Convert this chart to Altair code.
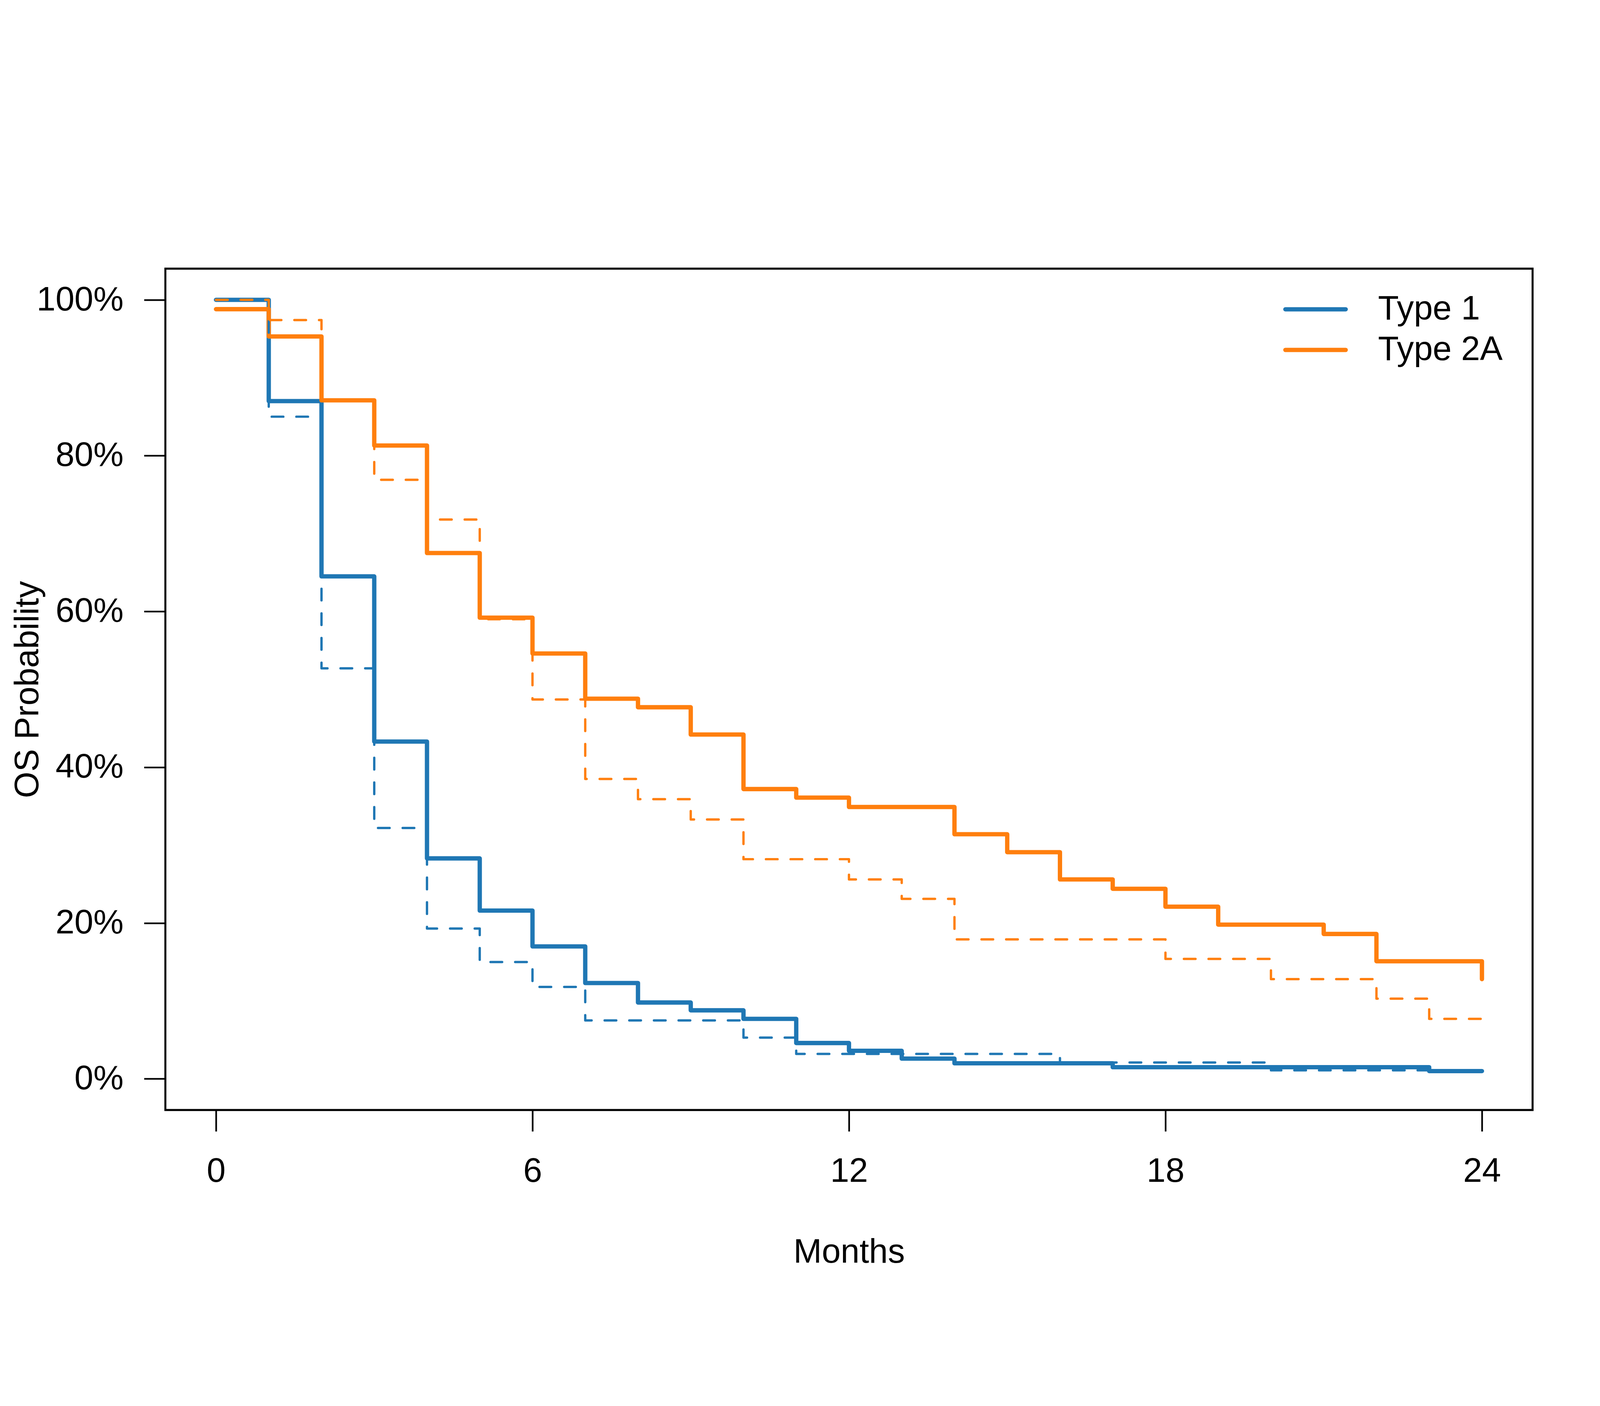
import altair as alt
import pandas as pd

# ---- data (survival in %) ----
months = list(range(25))  # 0..24

type1_solid = [100, 87.0, 64.5, 43.3, 28.3, 21.6, 17.0, 12.3, 9.8, 8.8, 7.7, 4.6,
               3.6, 2.6, 2.0, 2.0, 2.0, 1.5, 1.5, 1.5, 1.5, 1.5, 1.5, 1.0, 1.0]
type1_dash = [100, 85.0, 52.7, 32.2, 19.3, 15.0, 11.8, 7.5, 7.5, 7.5, 5.3, 3.2,
              3.2, 3.2, 3.2, 3.2, 2.1, 2.1, 2.1, 2.1, 1.1, 1.1, 1.1, 1.1, 1.1]
type2a_solid = [98.8, 95.3, 87.1, 81.3, 67.5, 59.2, 54.6, 48.8, 47.7, 44.2, 37.2, 36.1,
                34.9, 34.9, 31.4, 29.1, 25.6, 24.4, 22.1, 19.8, 19.8, 18.6, 15.1, 15.1, 15.1]
type2a_solid_end = [12.8]   # final drop at month 24
type2a_dash = [100, 97.4, 87.2, 76.9, 71.8, 59.0, 48.7, 38.5, 35.9, 33.3, 28.2, 28.2,
               25.6, 23.1, 17.9, 17.9, 17.9, 17.9, 15.4, 15.4, 12.8, 12.8, 10.3, 7.7, 7.7]

groups = ["Type 1", "Type 2A"]
colors = ["#1f77b4", "#ff7f0e"]
x_ticks = [0, 6, 12, 18, 24]
y_ticks = [0, 0.2, 0.4, 0.6, 0.8, 1.0]

rows = []
def add(group, kind, xs, ys):
    for i, (m, v) in enumerate(zip(xs, ys)):
        rows.append({"group": group, "kind": kind, "month": m, "surv": v / 100.0,
                     "ord": i, "series": group + "|" + kind})

add("Type 1", "dashed", months, type1_dash)
add("Type 2A", "dashed", months, type2a_dash)
add("Type 1", "solid", months, type1_solid)
add("Type 2A", "solid", months + [24], type2a_solid + type2a_solid_end)

df = pd.DataFrame(rows)
legend_df = pd.DataFrame({"group": groups})

FONT = "Liberation Sans"
color_scale = alt.Scale(domain=groups, range=colors)

base = alt.Chart(df).encode(
    x=alt.X("month:Q",
            scale=alt.Scale(domain=[-0.96, 24.96], nice=False, zero=False),
            axis=alt.Axis(values=x_ticks, title="Months", format="d",
                          labelPadding=70, titleY=458, titleBaseline="alphabetic")),
    y=alt.Y("surv:Q",
            scale=alt.Scale(domain=[-0.04, 1.04], nice=False, zero=False),
            axis=alt.Axis(values=y_ticks, title="OS Probability", format=".0%",
                          labelPadding=62, titleX=-382, titleBaseline="alphabetic")),
    color=alt.Color("group:N", scale=color_scale, legend=None),
    detail="series:N",
    order="ord:Q",
)

dashed = base.transform_filter(alt.datum.kind == "dashed").mark_line(
    interpolate="step-after", strokeWidth=7, strokeDash=[35, 39],
    strokeCap="round", strokeJoin="round")

solid = base.transform_filter(alt.datum.kind == "solid").mark_line(
    interpolate="step-after", strokeWidth=13, strokeCap="round", strokeJoin="round")

curves = alt.layer(solid, dashed)

# legend (top-right, inside the plot box)
leg_y = alt.Y("group:N",
              scale=alt.Scale(type="point", domain=groups, range=[122, 244], padding=0),
              axis=None)
leg_lines = alt.Chart(legend_df).mark_rule(strokeWidth=13, strokeCap="round").encode(
    x=alt.value(3362), x2=alt.value(3543), y=leg_y,
    color=alt.Color("group:N", scale=color_scale, legend=None))
leg_text = alt.Chart(legend_df).mark_text(
    align="left", baseline="middle", fontSize=102, font=FONT, color="black").encode(
    x=alt.value(3640), y=leg_y, text="group:N")
legend = alt.layer(leg_lines, leg_text)

chart = alt.layer(curves, legend).resolve_scale(y="independent").properties(
    width=4784, height=3584,
    autosize=alt.AutoSizeParams(type="fit", contains="padding"),
    padding={"left": 23, "top": 488, "right": 193, "bottom": 92},
).configure_view(
    stroke="black", strokeWidth=6
).configure_axis(
    domain=False, grid=False, ticks=True, tickSize=64, tickWidth=5,
    tickColor="black", labelFontSize=102, labelFont=FONT, labelColor="black",
    labelLimit=0,
    titleFontSize=102, titleFont=FONT, titleColor="black", titleFontWeight="normal",
).configure_axisY(
    labelAngle=0
)

chart.save("out.html", embed_options={"renderer": "svg", "actions": False})
